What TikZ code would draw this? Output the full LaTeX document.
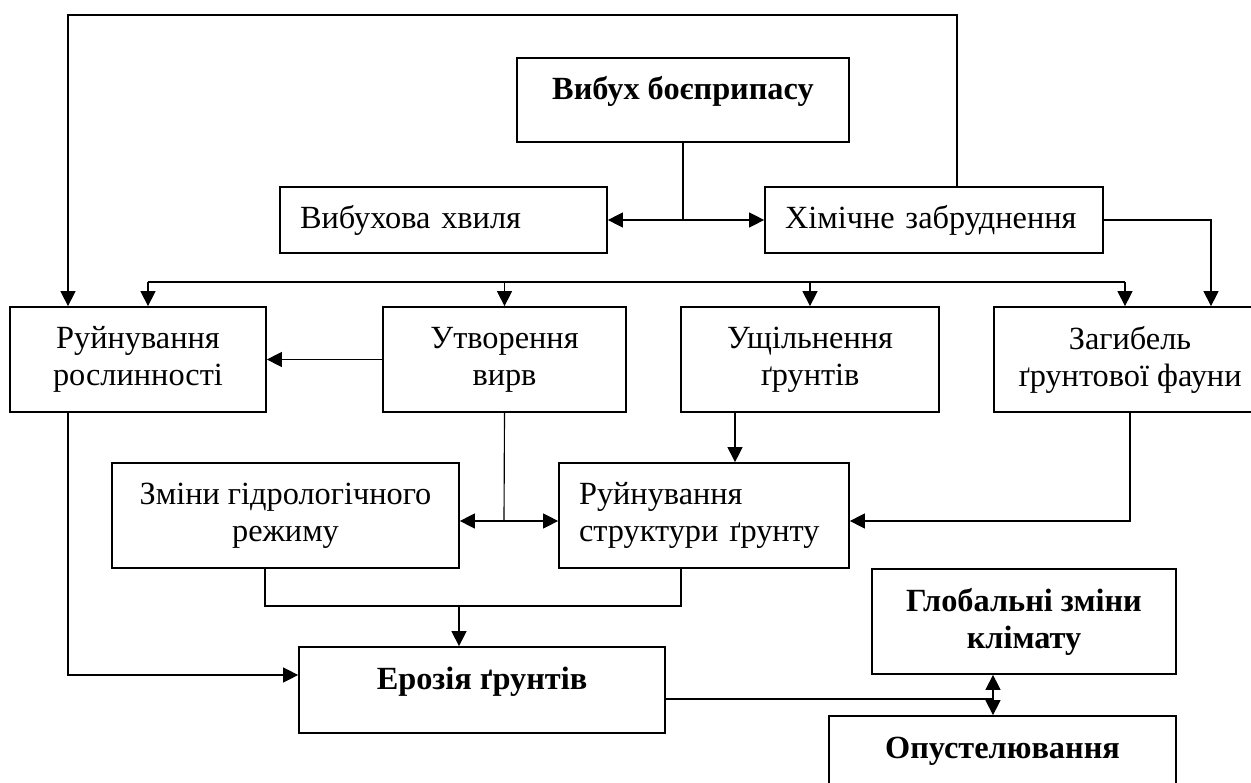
\documentclass[tikz,border=0pt]{standalone}
\usepackage{fontspec}
\setmainfont{Liberation Serif}
\usetikzlibrary{arrows.meta}

\begin{document}
\begin{tikzpicture}[
    x=0.02cm, y=-0.02cm,
    box/.style={draw, line width=1pt, align=center, inner sep=2pt, font=\fontsize{18.4}{21}\selectfont},
    lbox/.style={box, align=left, inner xsep=0.4cm},
    hbox/.style={box, font=\fontsize{18.4}{21}\selectfont\bfseries},
    uptext/.style={text height=12pt, text depth=13pt},
    line/.style={line width=0.65pt},
    arrow/.style={line, -{Triangle[length=8.5pt,width=8.5pt]}},
    dblarrow/.style={line, {Triangle[length=8.5pt,width=8.5pt]}-{Triangle[length=8.5pt,width=8.5pt]}}
]
\useasboundingbox (0,0) rectangle (1251,783);

% Top: blast and its two effects
\node[hbox, uptext, minimum width=6.64cm, minimum height=1.68cm] (blast) at (683,100) {Вибух боєприпасу};
\node[lbox, text width=5.74cm, minimum height=1.32cm] (wave) at (443.5,220) {Вибухова хвиля};
\node[lbox, text width=5.96cm, minimum height=1.32cm] (chem) at (934,220) {Хімічне забруднення};

% Row 1
\node[box, minimum width=5.12cm, minimum height=2.1cm] (veg) at (138,359.5) {Руйнування\\рослинності};
\node[box, minimum width=4.86cm, minimum height=2.1cm] (crat) at (504.5,359.5) {Утворення\\вирв};
\node[box, minimum width=5.16cm, minimum height=2.1cm] (comp) at (810,359.5) {Ущільнення\\ґрунтів};
\node[box, minimum width=5.44cm, minimum height=2.1cm] (fauna) at (1130,359.5) {Загибель\\ґрунтової фауни};

% Row 2
\node[box, minimum width=6.94cm, minimum height=2.1cm] (hydro) at (285.5,515.5) {Зміни гідрологічного\\режиму};
\node[lbox, text width=5.0cm, minimum height=2.1cm] (struct) at (704,515.5) {Руйнування\\структури ґрунту};

% Bottom
\node[hbox, uptext, minimum width=7.32cm, minimum height=1.72cm] (eros) at (482,690) {Ерозія ґрунтів};
\node[hbox, minimum width=6.08cm, minimum height=2.1cm] (clim) at (1024,621.5) {Глобальні зміни\\клімату};
\node[hbox, uptext, minimum width=6.94cm, minimum height=1.72cm] (des) at (1002.5,759) {Опустелювання};

% Bends
\coordinate (loopL) at (68,15);
\coordinate (loopR) at (957,15);
\coordinate (busL) at (148,282);
\coordinate (busR) at (1125,282);
\coordinate (chemR) at (1211,220);
\coordinate (hs) at (504,521);
\coordinate (mL) at (265,606);
\coordinate (mM) at (459,606);
\coordinate (mR) at (681,606);
\coordinate (ed) at (993,699);

% Edges
\draw[arrow] (chem.north -| loopR) -- (loopR) -- (loopL) -- (loopL |- veg.north);
\draw[line] (blast.south) -- (blast.south |- wave.east);
\draw[dblarrow] (wave.east) -- (chem.west);
\draw[arrow] (chem.east) -- (chemR) -- (chemR |- fauna.north);
\draw[line] (busL) -- (busR);
\draw[arrow] (busL) -- (busL |- veg.north);
\draw[arrow] (crat.north |- busL) -- (crat.north);
\draw[arrow] (comp.north |- busL) -- (comp.north);
\draw[arrow] (busR) -- (busR |- fauna.north);
\draw[arrow] (crat.west) -- (veg.east);
\draw[line] (crat.south) -- (hs);
\draw[dblarrow] (hs -| hydro.east) -- (hs -| struct.west);
\draw[arrow] ([xshift=-1.5cm]comp.south) -- ([xshift=-1.5cm]comp.south |- struct.north);
\draw[arrow] (fauna.south) |- (hs -| struct.east);
\draw[arrow] (loopL |- veg.south) |- ([yshift=0.3cm]eros.west);
\draw[line] (mL |- hydro.south) -- (mL) -- (mR) -- (mR |- struct.south);
\draw[arrow] (mM) -- (mM |- eros.north);
\draw[line] (eros.east |- ed) -- (ed);
\draw[dblarrow] (ed |- clim.south) -- (ed |- des.north);
\end{tikzpicture}
\end{document}
